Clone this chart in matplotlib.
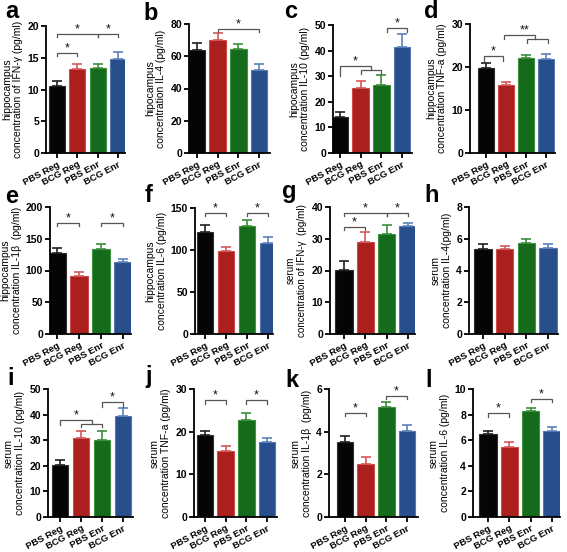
import matplotlib
matplotlib.use("Agg")
import matplotlib.pyplot as plt

plt.rcParams['font.family'] = ['Liberation Sans', 'DejaVu Sans']

W, H = 567, 552

groups = ["PBS Reg", "BCG Reg", "PBS Enr", "BCG Enr"]
bar_colors = ["#050505", "#AC1F1F", "#156B1C", "#284E8C"]
edge_colors = ["#303030", "#D04A4A", "#3E913E", "#5478B0"]
err_colors = ["#202020", "#D45A5A", "#3C8E3C", "#5C82BA"]

# ---- data (mean, SEM) ----
a_mean = [10.6, 13.3, 13.4, 14.8];   a_err = [0.8, 0.7, 0.6, 1.1]
b_mean = [64.0, 70.0, 64.2, 51.5];   b_err = [4.5, 4.5, 3.5, 3.5]
c_mean = [14.0, 25.2, 26.5, 41.3];   c_err = [1.9, 2.8, 3.8, 5.0]
d_mean = [19.8, 15.8, 22.0, 21.9];   d_err = [1.1, 0.8, 0.9, 1.2]
e_mean = [127, 92, 134, 114];        e_err = [8, 5, 8, 4]
f_mean = [122, 99, 128, 108];        f_err = [8, 5, 8, 7]
g_mean = [20.3, 28.9, 31.6, 34.1];   g_err = [2.7, 3.2, 2.6, 1.0]
h_mean = [5.35, 5.38, 5.75, 5.40];   h_err = [0.35, 0.15, 0.25, 0.30]
i_mean = [20.2, 30.8, 30.2, 39.5];   i_err = [2.0, 2.7, 3.5, 3.0]
j_mean = [19.2, 15.5, 22.8, 17.6];   j_err = [1.0, 1.1, 1.6, 1.0]
k_mean = [3.50, 2.48, 5.15, 4.05];   k_err = [0.32, 0.32, 0.22, 0.28]
l_mean = [6.45, 5.50, 8.25, 6.75];   l_err = [0.25, 0.35, 0.30, 0.25]

ylabels = {
    'a': "hippocampus\nconcentration of IFN-\u03b3 (pg/ml)",
    'b': "hipocampus\nconcentration IL-4 (pg/ml)",
    'c': "hipocampus\nconcentration IL-10 (pg/ml)",
    'd': "hippocampus\nconcentration TNF-a (pg/ml)",
    'e': "hippocampus\nconcentration IL-1\u03b2  (pg/ml)",
    'f': "hippocampus\nconcentration IL-6 (pg/ml)",
    'g': "serum\nconcentration of IFN-\u03b3  (pg/ml)",
    'h': "serum\nconcentration IL-4(pg/ml)",
    'i': "serum\nconcentration IL-10 (pg/ml)",
    'j': "serum\nconcentration TNF-a (pg/ml)",
    'k': "serum\nconcentration IL-1\u03b2  (pg/ml)",
    'l': "serum\nconcentration IL-6 (pg/ml)",
}
ylabel_size = {'g': 7.1}

yticks = {
    'a': [0, 5, 10, 15, 20], 'b': [0, 20, 40, 60, 80], 'c': [0, 10, 20, 30, 40, 50],
    'd': [0, 10, 20, 30], 'e': [0, 50, 100, 150, 200], 'f': [0, 50, 100, 150],
    'g': [0, 10, 20, 30, 40], 'h': [0, 2, 4, 6, 8], 'i': [0, 10, 20, 30, 40, 50],
    'j': [0, 10, 20, 30], 'k': [0, 2, 4, 6], 'l': [0, 2, 4, 6, 8, 10],
}

# significance brackets: (x1, x2, y, left drop, right drop, label, label x)
brackets = {
    'a': [(0, 2, 18.7, 0.5, 0.5, '*', 1.0), (2, 3, 18.7, 0.5, 0.5, '*', 2.5),
          (0, 1, 15.7, 0.5, 0.5, '*', 0.5)],
    'b': [(1, 3, 76.9, 1.6, 1.6, '*', 2.0)],
    'c': [(0, 1.5, 33.8, 3.7, 1.3, '*', 0.75), (1, 2, 32.5, 1.5, 1.5, '', 1.5),
          (2.25, 3.25, 48.7, 1.3, 1.3, '*', 2.75)],
    'd': [(-0.1, 0.85, 22.5, 1.0, 1.0, '*', 0.37), (0.92, 2.45, 27.5, 1.0, 1.0, '**', 1.95),
          (2.05, 3.08, 26.4, 0.8, 0.8, '', 2.5)],
    'e': [(0, 1, 175, 5, 5, '*', 0.5), (2, 3, 175, 5, 5, '*', 2.5)],
    'f': [(0, 1, 144, 4, 4, '*', 0.5), (2, 3, 144, 4, 4, '*', 2.5)],
    'g': [(0, 2, 38.2, 0.9, 0.9, '*', 1.0), (2, 3, 38.2, 0.9, 0.9, '*', 2.5),
          (0, 1, 33.7, 1.0, 1.0, '*', 0.5)],
    'h': [],
    'i': [(0, 1.5, 37.9, 2.0, 1.4, '*', 0.75), (1, 2, 36.5, 1.3, 1.3, '', 1.5),
          (2, 3, 44.8, 1.8, 1.8, '*', 2.5)],
    'j': [(0, 1, 27.4, 0.8, 0.8, '*', 0.5), (2, 3, 27.4, 0.8, 0.8, '*', 2.5)],
    'k': [(0, 1, 4.89, 0.16, 0.16, '*', 0.5), (2, 3, 5.67, 0.16, 0.16, '*', 2.5)],
    'l': [(0, 1, 8.1, 0.3, 0.3, '*', 0.5), (2, 3, 9.2, 0.25, 0.25, '*', 2.5)],
}

means = {'a': a_mean, 'b': b_mean, 'c': c_mean, 'd': d_mean, 'e': e_mean, 'f': f_mean,
         'g': g_mean, 'h': h_mean, 'i': i_mean, 'j': j_mean, 'k': k_mean, 'l': l_mean}
errs = {'a': a_err, 'b': b_err, 'c': c_err, 'd': d_err, 'e': e_err, 'f': f_err,
        'g': g_err, 'h': h_err, 'i': i_err, 'j': j_err, 'k': k_err, 'l': l_err}

# layout in pixels: spine x, right end, top, bottom, bar0 centre, bar3 centre
boxes = {
    'a': (46, 125, 26, 153, 57, 118),
    'b': (189, 270, 24, 153, 197, 259),
    'c': (333, 412, 25, 153, 340, 402),
    'd': (470, 555, 24, 153, 486, 546),
    'e': (50, 131, 207, 334, 57, 123),
    'f': (195, 273, 208, 334, 205, 268),
    'g': (330, 415, 207, 334, 344, 408),
    'h': (469, 558, 207, 334, 483, 548),
    'i': (48, 133, 389, 517, 60, 123),
    'j': (194, 277, 389, 517, 205, 267),
    'k': (329, 418, 389, 517, 345, 407),
    'l': (473, 560, 389, 517, 488, 552),
}
letter_pos = {
    'a': (5, 18), 'b': (143, 20), 'c': (284, 18), 'd': (424, 18),
    'e': (5, 203), 'f': (145, 202), 'g': (282, 198), 'h': (424, 202),
    'i': (7, 385), 'j': (145, 383), 'k': (285, 387), 'l': (425, 387),
}

fig = plt.figure(figsize=(W / 100, H / 100), dpi=100)

for key in 'abcdefghijkl':
    l, r, t, b, b0, b3 = boxes[key]
    ax = fig.add_axes([l / W, 1 - b / H, (r - l) / W, (b - t) / H])
    x = list(range(len(groups)))
    m = means[key]
    e = errs[key]
    ax.bar(x, m, width=0.8, color=bar_colors, edgecolor=edge_colors, linewidth=0.8, zorder=2)
    for xi, mi, ei, ec in zip(x, m, e, err_colors):
        ax.errorbar(xi, mi, yerr=[[0], [ei]], fmt='none', ecolor=ec, elinewidth=1.2,
                    capsize=3.5, capthick=1.2, zorder=3)
    scale = (b3 - b0) / 3
    ax.set_xlim((l - b0) / scale, 3 + (r - b3) / scale)
    yt = yticks[key]
    ax.set_ylim(yt[0], yt[-1])
    ax.set_yticks(yt)
    ax.set_xticks(x)
    ax.set_xticklabels(groups, rotation=28, ha='right', rotation_mode='anchor',
                       fontsize=6.8, fontweight='bold')
    for lab in ax.get_yticklabels():
        lab.set_fontweight('bold')
        lab.set_fontsize(7.5)
    ax.spines['top'].set_visible(False)
    ax.spines['right'].set_visible(False)
    ax.spines['left'].set_linewidth(1.3)
    ax.spines['bottom'].set_linewidth(1.3)
    ax.tick_params(axis='both', width=1.3, length=3.5, pad=1.5)
    ax.set_ylabel(ylabels[key], fontsize=ylabel_size.get(key, 7.5), labelpad=3,
                  linespacing=1.15)

    for (x1, x2, y, d1, d2, lab, lx) in brackets[key]:
        ax.plot([x1, x1, x2, x2], [y - d1, y, y, y - d2], color='#555555', lw=0.9,
                clip_on=False, zorder=4, solid_joinstyle='miter')
        if lab:
            ax.annotate(lab, (lx, y), xytext=(0, -1), textcoords='offset points',
                        ha='center', va='bottom', fontsize=9, color='#111111',
                        annotation_clip=False)

    lx, ly = letter_pos[key]
    fig.text(lx / W, 1 - ly / H, key, fontsize=17, fontweight='bold', va='baseline', ha='left')

fig.savefig('out.png', dpi=100)
